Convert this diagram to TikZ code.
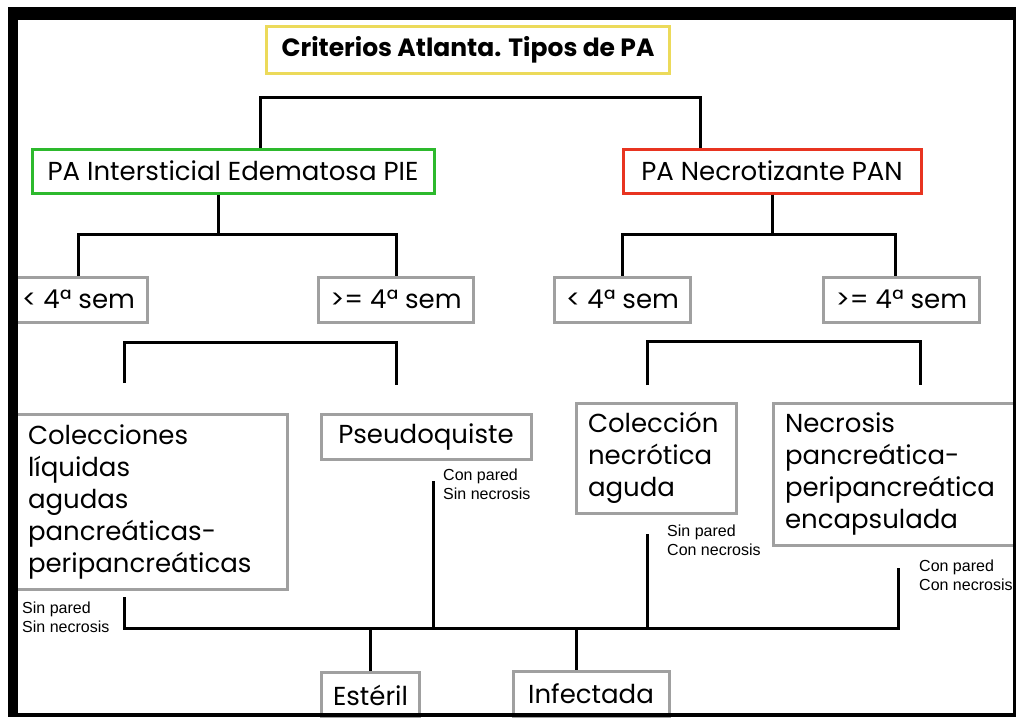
\documentclass[tikz,border=0pt]{standalone}
\usepackage{fontspec}
\setmainfont{Poppins}
\newfontfamily\helv{Liberation Sans}

\definecolor{verdePIE}{RGB}{45,185,45}
\definecolor{rojoPAN}{RGB}{232,52,32}
\definecolor{amarillo}{RGB}{236,218,90}
\definecolor{grisCaja}{RGB}{160,160,160}

\begin{document}
\begin{tikzpicture}[x=1pt,y=-1pt,
  conn/.style={line width=3pt},
  caja/.style={draw=grisCaja, line width=3pt, inner xsep=12pt, inner ysep=0pt,
    font=\fontsize{26}{32}\selectfont},
  cajaml/.style={caja, align=left},
  nota/.style={anchor=west, align=left, inner sep=0pt,
    font=\helv\fontsize{16}{19}\selectfont}]

  % Background
  \fill[white] (0,0) rectangle (1016,717);
  \useasboundingbox (0,0) rectangle (1016,717);

  % Title
  \node[caja, draw=amarillo, minimum width=403pt, minimum height=46pt,
    font=\fontsize{25}{28}\selectfont\bfseries] (titulo) at (468,50) {Criterios Atlanta. Tipos de PA};

  % Types
  \node[caja, draw=verdePIE, minimum width=402pt, minimum height=44pt] (pie) at (233,171) {PA Intersticial Edematosa PIE};
  \node[caja, draw=rojoPAN, minimum width=298pt, minimum height=44pt] (pan) at (772,171) {PA Necrotizante PAN};

  % Weeks
  \node[caja, minimum width=137pt, minimum height=45pt] (pielt) at (78.5,299.5) {< 4ª sem};
  \node[caja, minimum width=148pt, minimum height=45pt] (piege) at (396,299.5) {>= 4ª sem};
  \node[caja, minimum width=131pt, minimum height=45pt] (panlt) at (622.5,299.5) {< 4ª sem};
  \node[caja, minimum width=147pt, minimum height=45pt] (pange) at (901.5,299.5) {>= 4ª sem};

  % Collections
  \node[cajaml, text width=247pt, minimum height=175pt] (cla) at (151.5,501.5)
    {Colecciones\\líquidas\\agudas\\pancreáticas-\\peripancreáticas};
  \node[caja, minimum width=210pt, minimum height=45pt] (pseudo) at (426,436.5) {Pseudoquiste};
  \node[cajaml, text width=136pt, minimum height=110pt] (cna) at (656,458)
    {Colección\\necrótica\\aguda};
  \node[cajaml, text width=236pt, minimum height=142pt] (necr) at (903,474)
    {Necrosis\\pancreática-\\peripancreática\\encapsulada};

  % Outcome
  \node[caja, minimum width=97pt, minimum height=46pt] (esteril) at (370.5,695) {Estéril};
  \node[caja, minimum width=156pt, minimum height=46pt] (infect) at (591,694) {Infectada};

  % Notes
  \node[nota] (n1) at (443,484) {Con pared\\Sin necrosis};
  \node[nota] (n2) at (22,617) {Sin pared\\Sin necrosis};
  \node[nota] (n3) at (667,540) {Sin pared\\Con necrosis};
  \node[nota] (n4) at (919,575) {Con pared\\Con necrosis};

  % Tree lines
  \draw[conn] ([xshift=27pt]pie.north) -- ++(0,-50) -| ([xshift=-72pt]pan.north);
  \draw[conn] ([xshift=-15pt]pie.south) -- ++(0,40) coordinate (j1);
  \draw[conn] (pielt.north) |- (j1) -| (piege.north);
  \draw[conn] (pan.south) -- ++(0,40) coordinate (j2);
  \draw[conn] (panlt.north) |- (j2) -| ([xshift=-6pt]pange.north);

  \coordinate (a1) at (124,383);
  \coordinate (a2) at (396,385);
  \draw[conn] (a1) -- ++(0,-41) -| (a2);
  \coordinate (b1) at (647,385);
  \coordinate (b2) at (920,385);
  \draw[conn] (b1) -- ++(0,-44) -| (b2);

  \coordinate (c1) at (124,597);
  \coordinate (c2) at (433,481);
  \coordinate (c3) at (647,534);
  \coordinate (c4) at (898,568);
  \draw[conn] (c1) -- ++(0,31) coordinate (base) -| (c4);
  \draw[conn] (c2) -- (c2 |- base);
  \draw[conn] (c3) -- (c3 |- base);
  \draw[conn] (esteril.north) -- (esteril.north |- base);
  \draw[conn] ([xshift=-15pt]infect.north) -- ([xshift=-15pt]infect.north |- base);

  % Frame
  \fill[black] (8,7) rectangle (1016,20);
  \fill[black] (8,7) rectangle (18,717);
  \fill[black] (1013,7) rectangle (1016,717);
  \fill[black] (8,713) rectangle (1016,717);
\end{tikzpicture}
\end{document}
